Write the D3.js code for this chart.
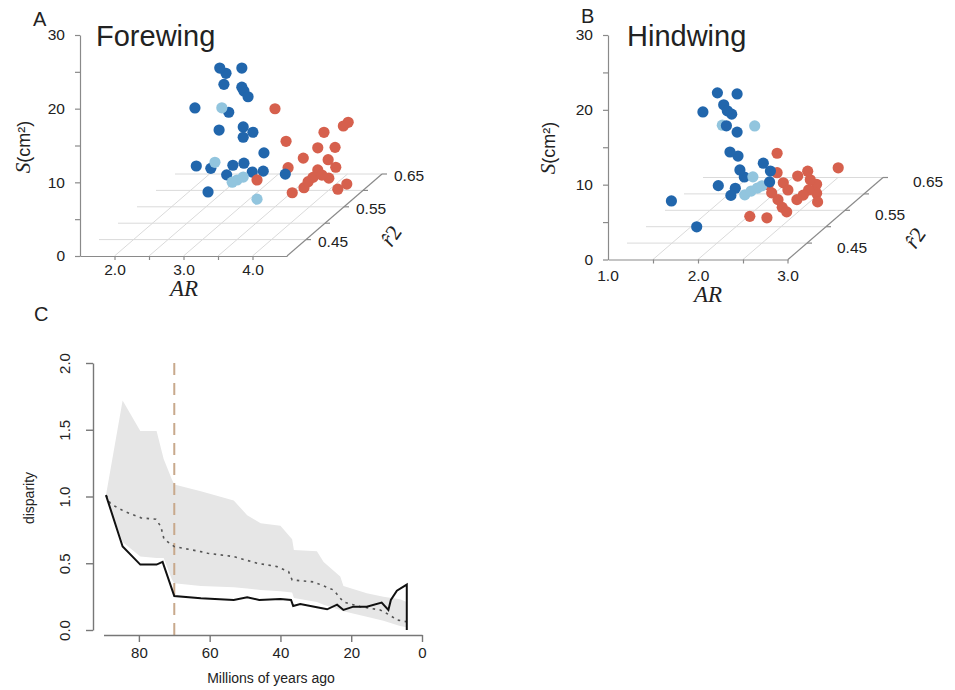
<!DOCTYPE html>
<html><head><meta charset="utf-8">
<script src="https://cdn.jsdelivr.net/npm/d3@7"></script>
<style>
body{margin:0;background:#fff}
text{font-family:"Liberation Sans",Arial,Helvetica,sans-serif;fill:#222}
</style>
</head><body>
<svg id="c" width="955" height="690"></svg>
<script>
// ---------------- DATA ----------------
// Panel A: forewing (b = dark blue, l = light blue, r = red)
const foreGroup = [
 "b","b","b","b","b","b","b","b","b","b","b","b","b","b","b","b","b","b","b","b","b","b","b",
 "l","l","l","l","l","l",
 "r","r","r","r","r","r","r","r","r","r","r","r","r","r","r","r","r","r","r","r","r"];
const foreAR = [
 3.14,3.01,3.46,2.98,3.46,3.27,3.55,2.56,3.27,2.91,3.48,3.40,3.48,3.56,2.80,2.79,3.33,3.27,3.24,3.39,3.77,2.75,4.09,
 3.17,3.07,3.39,3.48,3.68,3.32,
 3.61,3.55,4.32,4.16,4.23,4.23,4.04,4.02,4.16,4.05,4.23,3.94,4.09,3.81,3.86,4.17,4.30,4.43,3.80,3.79,4.29];
const foreR2 = [
 0.47,0.51,0.47,0.51,0.47,0.51,0.47,0.51,0.47,0.51,0.47,0.51,0.47,0.51,0.47,0.51,0.47,0.51,0.47,0.51,0.47,0.51,0.47,
 0.47,0.47,0.47,0.47,0.47,0.47,
 0.53,0.57,0.53,0.61,0.61,0.53,0.61,0.53,0.57,0.61,0.53,0.57,0.53,0.57,0.53,0.57,0.57,0.57,0.53,0.45,0.53];
const foreS = [
 22.4,19.9,22.4,18.4,19.8,17.5,18.5,15.2,16.4,12.2,14.4,11.9,13.0,9.1,9.1,7.0,9.2,7.7,7.9,6.5,8.4,3.8,8.0,
 17.0,9.6,7.2,7.6,4.6,6.9,
 14.2,8.0,11.0,8.3,8.8,8.9,5.4,7.5,5.5,2.7,5.9,3.1,4.3,1.7,2.8,3.0,1.5,2.2,6.2,8.1,5.2];

// Panel B: hindwing
const hindGroup = [
 "b","b","b","b","b","b","b","b","b","b","b","b","b","b","b","b","b","b","b","b",
 "l","l","l","l","l","l","l",
 "r","r","r","r","r","r","r","r","r","r","r","r","r","r","r","r","r","r","r","r","r"];
const hindAR = [
 1.92,1.97,1.99,1.59,2.03,1.91,2.02,1.97,2.06,1.98,2.43,2.34,2.17,2.05,1.93,1.95,2.07,1.24,1.69,2.50,
 1.89,2.25,2.23,2.14,2.21,2.28,2.33,
 2.33,2.84,2.67,2.39,2.33,2.23,2.23,2.45,2.60,2.68,2.62,2.78,2.60,2.55,2.34,2.27,2.64,2.69,2.28,2.47,2.53];
const hindR2 = [
 0.47,0.51,0.47,0.51,0.47,0.51,0.47,0.51,0.47,0.51,0.47,0.51,0.47,0.51,0.47,0.51,0.47,0.51,0.47,0.47,
 0.49,0.49,0.49,0.49,0.49,0.49,0.49,
 0.53,0.57,0.53,0.57,0.53,0.53,0.57,0.53,0.57,0.53,0.53,0.53,0.57,0.53,0.53,0.53,0.47,0.47,0.47,0.47,0.57];
const hindS = [
 19.2,17.3,17.6,14.9,16.8,14.6,14.8,12.2,11.3,9.0,9.8,7.0,8.9,6.2,6.8,4.7,5.5,3.0,1.3,7.3,
 14.0,13.9,7.1,4.7,5.2,5.6,5.9,
 8.5,4.8,6.1,3.7,5.9,4.3,2.8,3.6,2.6,3.6,2.9,2.0,1.4,2.3,2.3,3.2,3.9,3.3,2.7,2.5,3.2];

// Panel C: disparity through time
const bandAge   = [89.3,84.6,79.6,75.0,73.0,70.7,70.0,62.5,53.2,49.4,45.6,40.0,36.7,36.2,29.7,27.8,23.1,22.2,15.6,10.9,6.2,4.3];
const bandUpper = [1.01,1.72,1.49,1.49,1.28,1.13,1.09,1.04,0.97,0.86,0.80,0.78,0.68,0.60,0.59,0.51,0.40,0.33,0.275,0.25,0.23,0.21];
const bandLower = [1.00,0.66,0.55,0.54,0.54,0.38,0.35,0.33,0.32,0.31,0.30,0.29,0.28,0.24,0.21,0.19,0.15,0.14,0.10,0.07,0.03,0.02];

const obsAge  = [89.3,84.6,79.6,75.0,73.3,70.0,62.5,53.2,49.4,46.0,40.0,37.0,36.4,34.4,29.7,26.8,24.0,22.2,19.4,15.6,11.4,9.5,8.8,7.1,4.3,4.3];
const obsDisp = [1.01,0.625,0.49,0.49,0.51,0.255,0.237,0.225,0.245,0.225,0.232,0.225,0.18,0.195,0.17,0.155,0.19,0.15,0.175,0.175,0.205,0.15,0.225,0.295,0.34,0.0];

const expAge  = [89.3,88.0,84.2,79.4,75.2,73.8,72.9,70.0,62.5,60.6,53.2,46.6,41.0,37.7,36.7,30.6,25.0,22.2,17.5,11.8,9.0,7.1,4.3];
const expDisp = [1.01,0.945,0.89,0.84,0.83,0.775,0.68,0.625,0.587,0.575,0.55,0.50,0.475,0.437,0.375,0.36,0.30,0.21,0.175,0.15,0.11,0.075,0.062];

const sTicks = [0,5,10,15,20,25,30];
const r2Grid = [0.40,0.45,0.50,0.55,0.60,0.65];
const r2Labels = [0.45,0.55,0.65];
const ageTicks = [80,60,40,20,0];
const dispTicks = [0,0.5,1.0,1.5,2.0];
const kpgAge = 70;

const colors = {b:"#2166ac", l:"#92c5de", r:"#d6604d"};

// ---------------- DRAW ----------------
const svg = d3.select("#c");
const TICKFS = 15.5;

function draw3d(o){
  const g = svg.append("g");
  const dz = d3.scaleLinear().domain([r2Grid[0], r2Grid[r2Grid.length-1]]).range([0,1]);
  const P = (a,r,s) => [o.x(a) + o.dv[0]*dz(r), o.y(s) + o.dv[1]*dz(r)];
  const line = d3.line();
  const arDom = o.x.domain();
  // floor grid
  r2Grid.slice(1).forEach(r => g.append("path").attr("d", line([P(arDom[0],r,0),P(arDom[1],r,0)]))
     .attr("stroke","#dadada").attr("fill","none").attr("stroke-width",1));
  o.arGrid.forEach(a => g.append("path").attr("d", line([P(a,r2Grid[0],0),P(a,r2Grid[r2Grid.length-1],0)]))
     .attr("stroke","#dadada").attr("fill","none").attr("stroke-width",1));
  // r2 axis (right edge)
  g.append("path").attr("d", line([P(arDom[1],r2Grid[0],0),P(arDom[1],r2Grid[r2Grid.length-1],0)]))
     .attr("stroke","#8a8a8a").attr("fill","none").attr("stroke-width",1.2);
  r2Grid.slice(1).forEach(r => {
    const p = P(arDom[1],r,0);
    g.append("line").attr("x1",p[0]).attr("y1",p[1]).attr("x2",p[0]+5).attr("y2",p[1])
      .attr("stroke","#8a8a8a").attr("stroke-width",1.2);
  });
  r2Labels.forEach(r => {
    const p = P(arDom[1],r,0);
    g.append("text").attr("x",p[0]+o.r2Off[0]).attr("y",p[1]+o.r2Off[1]).attr("dy","0.35em")
      .attr("font-size",TICKFS).text(r.toFixed(2));
  });
  // AR axis (front edge)
  const ax = d3.axisBottom(o.x).tickValues(o.arTicks).tickSize(4).tickSizeOuter(0).tickPadding(o.arPad)
     .tickFormat(d => o.arLabels.includes(d) ? d.toFixed(1) : "");
  const axg = g.append("g").attr("transform",`translate(0,${o.y(0)})`).call(ax);
  axg.selectAll("path,line").attr("stroke","#8a8a8a").attr("stroke-width",1.2);
  axg.selectAll("text").attr("font-size",TICKFS).attr("fill","#222").attr("font-family","Liberation Sans, Arial, sans-serif");
  // S axis (vertical)
  const sy = d3.axisLeft(o.y).tickValues(sTicks).tickSize(5).tickSizeOuter(0).tickPadding(10)
     .tickFormat(d => d % 10 === 0 ? d : "");
  const syg = g.append("g").attr("transform",`translate(${o.x(arDom[0])},0)`).call(sy);
  syg.selectAll("path,line").attr("stroke","#8a8a8a").attr("stroke-width",1.2);
  syg.selectAll("text").attr("font-size",TICKFS).attr("fill","#222").attr("font-family","Liberation Sans, Arial, sans-serif");
  // points (far first)
  const pts = o.ar.map((a,i) => ({a, r:o.r2[i], s:o.s[i], grp:o.grp[i]}));
  pts.sort((p,q) => q.r - p.r);
  g.selectAll("circle.pt").data(pts).join("circle").attr("class","pt")
    .attr("cx", d => P(d.a,d.r,d.s)[0]).attr("cy", d => P(d.a,d.r,d.s)[1])
    .attr("r",5.6).attr("fill", d => colors[d.grp]);
  // titles and labels
  g.append("text").attr("x",o.title[1]).attr("y",o.title[2]).attr("font-size",29).text(o.title[0]);
  g.append("text").attr("x",o.panel[1]).attr("y",o.panel[2]).attr("font-size",20).text(o.panel[0]);
  g.append("text").attr("x",o.arLab[0]).attr("y",o.arLab[1]).attr("text-anchor","middle")
    .attr("font-size",23).attr("font-style","italic").style("font-family","'Liberation Serif', serif").text("AR");
  const sl = g.append("text").attr("transform",`translate(${o.sLab[0]},${o.sLab[1]}) rotate(-90)`)
    .attr("text-anchor","middle").attr("font-size",18);
  sl.append("tspan").attr("font-style","italic").attr("font-size",21).style("font-family","'Liberation Serif', serif").text("S");
  sl.append("tspan").text("(cm²)");
  const rl = g.append("text").attr("transform",`translate(${o.rLab[0]},${o.rLab[1]}) rotate(-55)`)
    .attr("text-anchor","middle").attr("font-size",22).style("font-family","'Liberation Serif', serif");
  rl.append("tspan").attr("font-style","italic").text("r\u0302");
  rl.append("tspan").text("2");
}

draw3d({
  x: d3.scaleLinear().domain([1.5,4.5]).range([80,287]),
  y: d3.scaleLinear().domain([0,30]).range([256,35]),
  dv:[95,-82],
  arGrid:[2.0,2.5,3.0,3.5,4.0],
  arTicks:[2.0,2.5,3.0,3.5,4.0],
  arLabels:[2.0,3.0,4.0], arPad:3.5,
  r2Off:[12,2],
  ar:foreAR, r2:foreR2, s:foreS, grp:foreGroup,
  title:["Forewing",96,46], panel:["A",33,26],
  arLab:[184,296], sLab:[30,147], rLab:[397,240]
});
draw3d({
  x: d3.scaleLinear().domain([1.0,3.0]).range([608,788]),
  y: d3.scaleLinear().domain([0,30]).range([259.5,35]),
  dv:[95,-82],
  arGrid:[1.5,2.0,2.5],
  arTicks:[1.5,2.0,2.5],
  arLabels:[1.0,2.0,3.0], arPad:6.5,
  r2Off:[30,4],
  ar:hindAR, r2:hindR2, s:hindS, grp:hindGroup,
  title:["Hindwing",627,46], panel:["B",581,23],
  arLab:[708,302], sLab:[555,148], rLab:[921,242]
});
// AR tick labels at the ends of panel B (1.0 and 3.0 sit at the corners)
(function(){
  const x = d3.scaleLinear().domain([1.0,3.0]).range([608,788]);
  [1.0,3.0].forEach(v => svg.append("text").attr("x",x(v)).attr("y",259.5+10.5).attr("dy","0.71em")
     .attr("text-anchor","middle").attr("font-size",TICKFS).text(v.toFixed(1)));
  [3.0].forEach(v => svg.append("line").attr("x1",x(v)).attr("x2",x(v)).attr("y1",259.5).attr("y2",263.5)
     .attr("stroke","#8a8a8a").attr("stroke-width",1.2));
})();

// ---------------- PANEL C ----------------
const xC = d3.scaleLinear().domain([90,0]).range([103.5,422]);
const yC = d3.scaleLinear().domain([0,2]).range([630,363]);
const gC = svg.append("g");
const bandRows = bandAge.map((a,i) => ({a, u:bandUpper[i], l:bandLower[i]}));
gC.append("path").datum(bandRows)
  .attr("d", d3.area().x(d => xC(d.a)).y0(d => yC(d.l)).y1(d => yC(d.u)))
  .attr("fill","#e6e6e6");
gC.append("line").attr("x1",xC(kpgAge)).attr("x2",xC(kpgAge)).attr("y1",yC(2.0)).attr("y2",yC(-0.07))
  .attr("stroke","#c8a98c").attr("stroke-width",2).attr("stroke-dasharray","12,8");
gC.append("path").datum(expAge.map((a,i) => [a, expDisp[i]]))
  .attr("d", d3.line().x(d => xC(d[0])).y(d => yC(d[1])))
  .attr("fill","none").attr("stroke","#555").attr("stroke-width",1.6).attr("stroke-dasharray","2.5,4.5");
gC.append("path").datum(obsAge.map((a,i) => [a, obsDisp[i]]))
  .attr("d", d3.line().x(d => xC(d[0])).y(d => yC(d[1])))
  .attr("fill","none").attr("stroke","#111").attr("stroke-width",2);

const xa = gC.append("g").attr("transform","translate(0,635)")
  .call(d3.axisBottom(xC).tickValues(ageTicks).tickSize(7).tickSizeOuter(0).tickPadding(5));
const ya = gC.append("g").attr("transform","translate(93,0)")
  .call(d3.axisLeft(yC).tickValues(dispTicks).tickSize(7).tickSizeOuter(0).tickFormat(d3.format(".1f")));
[xa,ya].forEach(a => {
  a.selectAll("path,line").attr("stroke","#777").attr("stroke-width",1.4);
  a.selectAll("text").attr("font-size",15).attr("fill","#222").attr("font-family","Liberation Sans, Arial, sans-serif");
});
ya.selectAll("text").attr("x",0).attr("dy",0).attr("text-anchor","middle")
  .attr("transform","translate(-23,0) rotate(-90)");
gC.append("text").attr("transform","translate(34,498) rotate(-90)").attr("text-anchor","middle")
  .attr("font-size",14).text("disparity");
gC.append("text").attr("x",271).attr("y",683).attr("text-anchor","middle")
  .attr("font-size",14).text("Millions of years ago");
gC.append("text").attr("x",34).attr("y",321).attr("font-size",20).text("C");
</script>
</body></html>
